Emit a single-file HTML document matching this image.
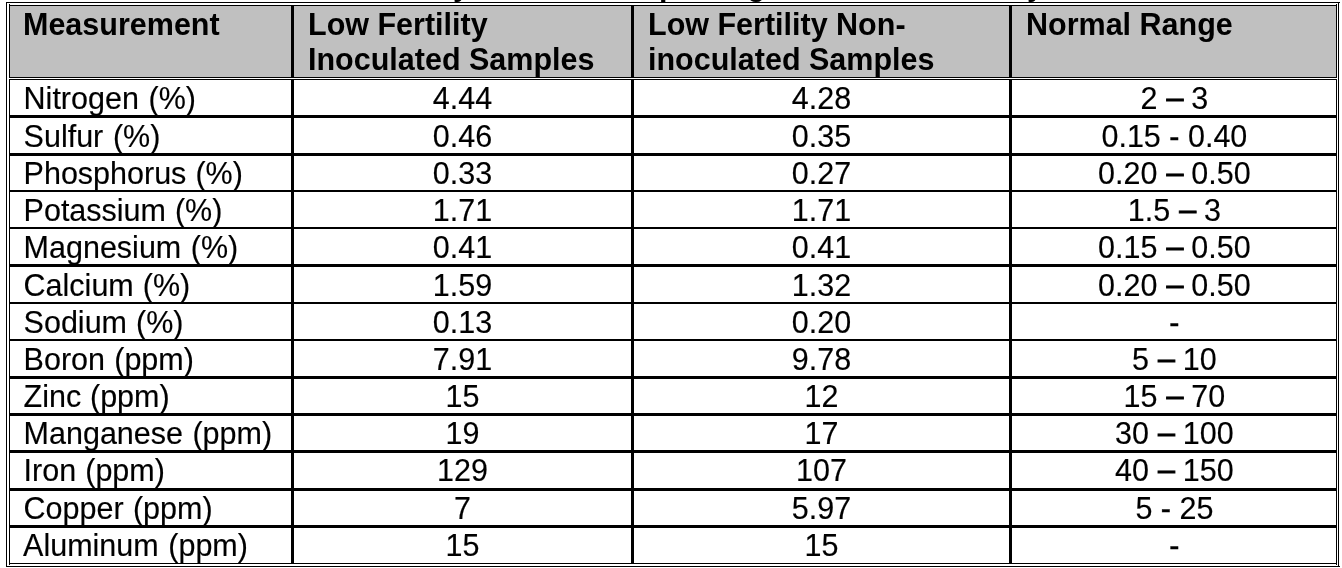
<!DOCTYPE html>
<html lang="en">
<head>
<meta charset="utf-8">
<title>Plant tissue analysis table</title>
<style>
html,body{margin:0;padding:0;background:#fff;}
body{width:1342px;height:568px;position:relative;overflow:hidden;font-family:"Liberation Sans",sans-serif;color:#000;}
.l{position:absolute;background:#000;}
.g{position:absolute;background:#c0c0c0;}
.t{position:absolute;white-space:nowrap;font-size:30.5px;line-height:36px;height:36px;}
.r{-webkit-text-stroke:0.15px #000;}
.b{font-weight:bold;}
.c{text-align:center;}
.en{-webkit-text-stroke:0.9px #000;display:inline-block;transform:translate(0.5px,-0.8px);}
.hy{-webkit-text-stroke:0.4px #000;}
.cap{position:absolute;left:0;top:0;width:1342px;height:2px;overflow:hidden;}
</style>
</head>
<body>
<div class="cap"><span class="t b" style="left:453px;top:-33.57px">y</span><span class="t b" style="left:659px;top:-33.57px">p</span><span class="t b" style="left:747px;top:-33.57px">g</span><span class="t b" style="left:1027px;top:-33.57px">y</span></div>
<div class="g" style="left:10px;top:6px;width:1326px;height:71px"></div>
<div class="l" style="left:6px;top:2px;width:1334px;height:1px"></div>
<div class="l" style="left:6px;top:566px;width:1334px;height:1px"></div>
<div class="l" style="left:6px;top:2px;width:1px;height:565px"></div>
<div class="l" style="left:1338px;top:2px;width:1px;height:565px"></div>
<div class="l" style="left:9px;top:5px;width:1328px;height:1px"></div>
<div class="l" style="left:9px;top:563px;width:1328px;height:1px"></div>
<div class="l" style="left:9px;top:4px;width:1px;height:74px"></div>
<div class="l" style="left:9px;top:79px;width:1px;height:486px"></div>
<div class="l" style="left:1336px;top:4px;width:1px;height:74px"></div>
<div class="l" style="left:1336px;top:79px;width:1px;height:486px"></div>
<div class="l" style="left:9px;top:77px;width:1328px;height:1px"></div>
<div class="l" style="left:9px;top:79px;width:1328px;height:1px"></div>
<div class="l" style="left:291px;top:6px;width:3px;height:72px"></div>
<div class="l" style="left:291px;top:79px;width:3px;height:485px"></div>
<div class="l" style="left:631px;top:6px;width:3px;height:72px"></div>
<div class="l" style="left:631px;top:79px;width:3px;height:485px"></div>
<div class="l" style="left:1009px;top:6px;width:3px;height:72px"></div>
<div class="l" style="left:1009px;top:79px;width:3px;height:485px"></div>
<div class="l" style="left:10px;top:115px;width:1326px;height:3px"></div>
<div class="l" style="left:10px;top:153px;width:1326px;height:3px"></div>
<div class="l" style="left:10px;top:190px;width:1326px;height:2px"></div>
<div class="l" style="left:10px;top:227px;width:1326px;height:2px"></div>
<div class="l" style="left:10px;top:264px;width:1326px;height:3px"></div>
<div class="l" style="left:10px;top:302px;width:1326px;height:2px"></div>
<div class="l" style="left:10px;top:339px;width:1326px;height:2px"></div>
<div class="l" style="left:10px;top:376px;width:1326px;height:3px"></div>
<div class="l" style="left:10px;top:413px;width:1326px;height:3px"></div>
<div class="l" style="left:10px;top:450px;width:1326px;height:3px"></div>
<div class="l" style="left:10px;top:488px;width:1326px;height:3px"></div>
<div class="l" style="left:10px;top:525px;width:1326px;height:3px"></div>
<div class="thead">
<div class="t b" style="left:23px;top:6.43px;">Measurement</div>
<div class="t b" style="left:308px;top:6.43px;">Low Fertility</div>
<div class="t b" style="left:308px;top:41.43px;">Inoculated Samples</div>
<div class="t b" style="left:648px;top:6.43px;">Low Fertility Non-</div>
<div class="t b" style="left:648px;top:41.43px;">inoculated Samples</div>
<div class="t b" style="left:1026px;top:6.43px;">Normal Range</div>
</div>
<div class="tbody">
<div class="tr">
<div class="t r" style="left:23.6px;top:80.43px;word-spacing:1.2px;">Nitrogen (%)</div>
<div class="t r c" style="left:312.5px;width:300px;top:80.43px">4.44</div>
<div class="t r c" style="left:671.5px;width:300px;top:80.43px">4.28</div>
<div class="t r c" style="left:1024.4px;width:300px;top:80.43px">2 <span class="en">–</span> 3</div>
</div>
<div class="tr">
<div class="t r" style="left:23.6px;top:118.43px;word-spacing:1.2px;">Sulfur (%)</div>
<div class="t r c" style="left:312.5px;width:300px;top:118.43px">0.46</div>
<div class="t r c" style="left:671.5px;width:300px;top:118.43px">0.35</div>
<div class="t r c" style="left:1024.4px;width:300px;top:118.43px">0.15 <span class="hy">-</span> 0.40</div>
</div>
<div class="tr">
<div class="t r" style="left:23.6px;top:155.43px;word-spacing:0.6px;">Phosphorus (%)</div>
<div class="t r c" style="left:312.5px;width:300px;top:155.43px">0.33</div>
<div class="t r c" style="left:671.5px;width:300px;top:155.43px">0.27</div>
<div class="t r c" style="left:1024.4px;width:300px;top:155.43px">0.20 <span class="en">–</span> 0.50</div>
</div>
<div class="tr">
<div class="t r" style="left:23.6px;top:192.43px;word-spacing:0.5px;">Potassium (%)</div>
<div class="t r c" style="left:312.5px;width:300px;top:192.43px">1.71</div>
<div class="t r c" style="left:671.5px;width:300px;top:192.43px">1.71</div>
<div class="t r c" style="left:1024.4px;width:300px;top:192.43px">1.5 <span class="en">–</span> 3</div>
</div>
<div class="tr">
<div class="t r" style="left:23.6px;top:229.43px;word-spacing:1.1px;">Magnesium (%)</div>
<div class="t r c" style="left:312.5px;width:300px;top:229.43px">0.41</div>
<div class="t r c" style="left:671.5px;width:300px;top:229.43px">0.41</div>
<div class="t r c" style="left:1024.4px;width:300px;top:229.43px">0.15 <span class="en">–</span> 0.50</div>
</div>
<div class="tr">
<div class="t r" style="left:23.6px;top:267.43px;word-spacing:0.5px;">Calcium (%)</div>
<div class="t r c" style="left:312.5px;width:300px;top:267.43px">1.59</div>
<div class="t r c" style="left:671.5px;width:300px;top:267.43px">1.32</div>
<div class="t r c" style="left:1024.4px;width:300px;top:267.43px">0.20 <span class="en">–</span> 0.50</div>
</div>
<div class="tr">
<div class="t r" style="left:23.6px;top:304.43px;word-spacing:0.5px;">Sodium (%)</div>
<div class="t r c" style="left:312.5px;width:300px;top:304.43px">0.13</div>
<div class="t r c" style="left:671.5px;width:300px;top:304.43px">0.20</div>
<div class="t r c" style="left:1024.4px;width:300px;top:304.43px"><span class="hy">-</span></div>
</div>
<div class="tr">
<div class="t r" style="left:23.6px;top:341.43px;word-spacing:0.8px;">Boron (ppm)</div>
<div class="t r c" style="left:312.5px;width:300px;top:341.43px">7.91</div>
<div class="t r c" style="left:671.5px;width:300px;top:341.43px">9.78</div>
<div class="t r c" style="left:1024.4px;width:300px;top:341.43px">5 <span class="en">–</span> 10</div>
</div>
<div class="tr">
<div class="t r" style="left:23.6px;top:378.43px;word-spacing:0.3px;">Zinc (ppm)</div>
<div class="t r c" style="left:312.5px;width:300px;top:378.43px">15</div>
<div class="t r c" style="left:671.5px;width:300px;top:378.43px">12</div>
<div class="t r c" style="left:1024.4px;width:300px;top:378.43px">15 <span class="en">–</span> 70</div>
</div>
<div class="tr">
<div class="t r" style="left:23.6px;top:415.43px;word-spacing:1.0px;">Manganese (ppm)</div>
<div class="t r c" style="left:312.5px;width:300px;top:415.43px">19</div>
<div class="t r c" style="left:671.5px;width:300px;top:415.43px">17</div>
<div class="t r c" style="left:1024.4px;width:300px;top:415.43px">30 <span class="en">–</span> 100</div>
</div>
<div class="tr">
<div class="t r" style="left:23.6px;top:452.43px;word-spacing:0.6px;">Iron (ppm)</div>
<div class="t r c" style="left:312.5px;width:300px;top:452.43px">129</div>
<div class="t r c" style="left:671.5px;width:300px;top:452.43px">107</div>
<div class="t r c" style="left:1024.4px;width:300px;top:452.43px">40 <span class="en">–</span> 150</div>
</div>
<div class="tr">
<div class="t r" style="left:23.6px;top:490.43px;word-spacing:0.8px;">Copper (ppm)</div>
<div class="t r c" style="left:312.5px;width:300px;top:490.43px">7</div>
<div class="t r c" style="left:671.5px;width:300px;top:490.43px">5.97</div>
<div class="t r c" style="left:1024.4px;width:300px;top:490.43px">5 <span class="hy">-</span> 25</div>
</div>
<div class="tr">
<div class="t r" style="left:23.1px;top:527.43px;word-spacing:1.1px;">Aluminum (ppm)</div>
<div class="t r c" style="left:312.5px;width:300px;top:527.43px">15</div>
<div class="t r c" style="left:671.5px;width:300px;top:527.43px">15</div>
<div class="t r c" style="left:1024.4px;width:300px;top:527.43px"><span class="hy">-</span></div>
</div>
</div>
</body>
</html>
